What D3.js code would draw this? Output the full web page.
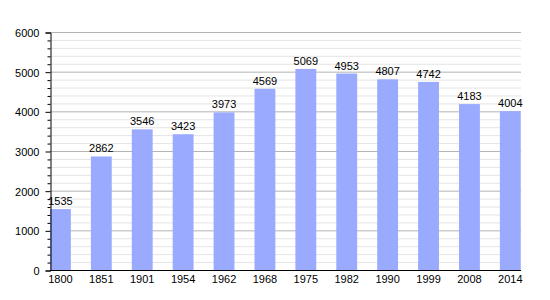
<!DOCTYPE html>
<html>
<head>
<meta charset="utf-8">
<script src="https://cdn.jsdelivr.net/npm/d3@7"></script>
<style>
  body { margin: 0; background: #fff; }
  text { font-family: "Liberation Sans", Arial, sans-serif; font-size: 11px; fill: #000; }
</style>
</head>
<body>
<svg id="chart" width="550" height="300"></svg>
<script>
// population per census year
let years = ["1800", "1851", "1901", "1954", "1962", "1968", "1975", "1982", "1990", "1999", "2008", "2014"];
let population = [1535, 2862, 3546, 3423, 3973, 4569, 5069, 4953, 4807, 4742, 4183, 4004];
let yTicks = [0, 1000, 2000, 3000, 4000, 5000, 6000];

const svg = d3.select("#chart");
const mLeft = 50, mRight = 521, mTop = 32, mBottom = 270;

const x = d3.scaleBand().domain(years).range([mLeft, mLeft + 12 * 40.9]).padding(0);
const y = d3.scaleLinear().domain([0, 6000]).range([mBottom, mTop]);

// minor grid every 200
const minor = d3.range(0, 6001, 200).filter(v => v % 1000 !== 0);
svg.append("g").selectAll("line").data(minor).enter().append("line")
  .attr("x1", mLeft).attr("x2", mRight)
  .attr("y1", d => y(d) + 0.5).attr("y2", d => y(d) + 0.5)
  .attr("stroke", "#e4e4e4").attr("stroke-width", 1);

svg.append("g").selectAll("line").data(yTicks.slice(1)).enter().append("line")
  .attr("x1", mLeft).attr("x2", mRight)
  .attr("y1", d => y(d) + 0.5).attr("y2", d => y(d) + 0.5)
  .attr("stroke", "#b4b4b4").attr("stroke-width", 1);

// bars
const bw = x.bandwidth() * 0.51;
svg.append("g").selectAll("rect").data(population).enter().append("rect")
  .attr("x", (d, i) => x(years[i]))
  .attr("y", d => y(d))
  .attr("width", bw)
  .attr("height", d => mBottom - y(d))
  .attr("fill", "#99aaff");

svg.append("g").selectAll("text").data(population).enter().append("text")
  .attr("x", (d, i) => x(years[i]) + bw / 2)
  .attr("y", d => y(d) - 4)
  .attr("text-anchor", "middle")
  .text(d => d);

// y axis
const yAxis = d3.axisLeft(y).tickValues(yTicks).tickSize(5).tickPadding(6).tickFormat(d3.format("d"));
const gy = svg.append("g").attr("transform", `translate(${mLeft + 0.5},0.5)`).call(yAxis);
gy.select(".domain").attr("stroke", "#000");
gy.selectAll(".tick text").attr("dy", "0.35em");
gy.selectAll(".tick line").attr("stroke", "#000");
const yMinor = d3.axisLeft(y).tickValues(minor).tickSize(3).tickFormat("");
const gm = svg.append("g").attr("transform", `translate(${mLeft + 0.5},0.5)`).call(yMinor);
gm.select(".domain").remove();

// x axis
svg.append("line")
  .attr("x1", mLeft).attr("x2", mRight)
  .attr("y1", mBottom + 0.5).attr("y2", mBottom + 0.5)
  .attr("stroke", "#000").attr("stroke-width", 1.2);

svg.append("g").selectAll("text").data(years).enter().append("text")
  .attr("x", d => x(d) + bw / 2)
  .attr("y", mBottom + 13)
  .attr("text-anchor", "middle")
  .text(d => d);
</script>
</body>
</html>
